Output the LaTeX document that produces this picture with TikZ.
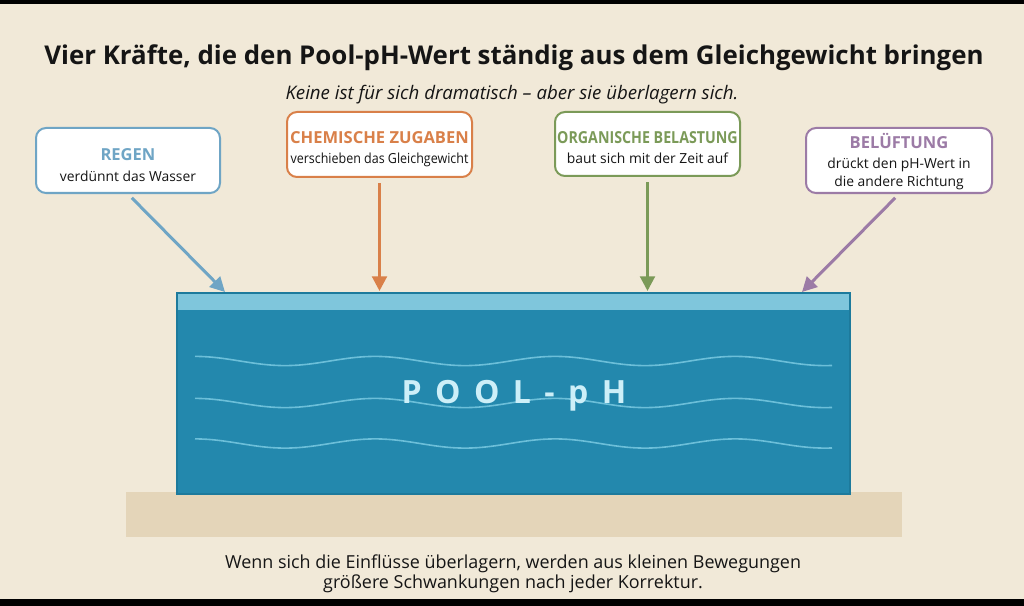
\documentclass[tikz,border=0pt]{standalone}
\usepackage{fontspec}
\setmainfont{Open Sans}
\usetikzlibrary{arrows.meta}
\definecolor{bg}{HTML}{F1E9D8}
\definecolor{basecol}{HTML}{E4D5B9}
\definecolor{water}{HTML}{2388AD}
\definecolor{waterline}{HTML}{1D7A9C}
\definecolor{surface}{HTML}{7FC6DC}
\definecolor{wave}{HTML}{6CBFD9}
\definecolor{pooltext}{HTML}{CDEFF8}
\definecolor{cblue}{HTML}{6FA5C5}
\definecolor{corange}{HTML}{D98049}
\definecolor{cgreen}{HTML}{7B9A58}
\definecolor{cpurple}{HTML}{9C7BA6}
\definecolor{ink}{HTML}{151515}
\begin{document}
\begin{tikzpicture}[x=0.75pt,y=-0.75pt,
  box/.style={draw=#1, line width=1.5pt, rounded corners=7.5pt, fill=white, inner sep=0pt},
  btitle/.style={anchor=base, text=#1, font=\fontsize{12.4pt}{14pt}\selectfont\bfseries, inner sep=0pt},
  bsub/.style={anchor=base, text=ink, font=\fontsize{10.4pt}{12pt}\selectfont, inner sep=0pt},
  arr/.style={draw=#1, line width=2.25pt, -{Triangle[length=11pt,width=11pt]}, shorten <=4pt},
  wavy/.style={draw=wave, line width=1.2pt},
]
\useasboundingbox (0,0) rectangle (1024,606);
\fill[bg] (0,0) rectangle (1024,606);
\fill[black] (0,0) rectangle (1024,4);
\fill[black] (0,599) rectangle (1024,606);

% titles
\node[anchor=base, inner sep=0pt, text=ink, font=\fontsize{19.4pt}{23pt}\selectfont\bfseries] (title) at (514,65)
  {Vier Kräfte, die den Pool-pH-Wert ständig aus dem Gleichgewicht bringen};
\node[anchor=base, inner sep=0pt, text=ink, font=\fontsize{14pt}{17pt}\selectfont\itshape] (subtitle) at (512,100)
  {Keine ist für sich dramatisch – aber sie überlagern sich.};

% base and pool
\fill[basecol] (126,492) rectangle (902,537);
\node[draw=waterline, fill=water, line width=1pt, minimum width=504.75pt, minimum height=150.75pt, inner sep=0pt] (pool) at (513.5,393.5) {};
\fill[surface] (178,294) rectangle (849,310);
\draw[wavy] plot[domain=195:832, samples=150, smooth] (\x, {361 - 4.6*cos(2*(\x-195))});
\draw[wavy] plot[domain=195:832, samples=150, smooth] (\x, {403 - 4.6*cos(2*(\x-195))});
\draw[wavy] plot[domain=195:832, samples=150, smooth] (\x, {443.5 - 4.6*cos(2*(\x-195))});
\node[anchor=base, inner sep=0pt, text=pooltext, font=\fontsize{24pt}{28pt}\selectfont\bfseries] (pooltxt) at (514,403)
  {P\hspace{.42em}O\hspace{.42em}O\hspace{.42em}L\hspace{.42em}-\hspace{.42em}p\hspace{.42em}H};

% boxes
\node[box=cblue, minimum width=138pt, minimum height=48.75pt] (regen) at (128,160.5) {};
\node[btitle=cblue] (regenT) at (128,161) {REGEN};
\node[bsub] (regenS) at (128,181) {verdünnt das Wasser};

\node[box=corange, minimum width=138.75pt, minimum height=48.75pt] (chem) at (379.5,144.5) {};
\node[btitle=corange] (chemT) at (379.5,144) {CHEMISCHE ZUGABEN};
\node[bsub] (chemS) at (379.5,164) {\addfontfeature{FakeStretch=0.9}verschieben das Gleichgewicht};

\node[box=cgreen, minimum width=138.75pt, minimum height=48pt] (org) at (647.5,144) {};
\node[btitle=cgreen] (orgT) at (647.5,143.5) {\addfontfeature{FakeStretch=0.86}ORGANISCHE BELASTUNG};
\node[bsub] (orgS) at (647.5,164) {baut sich mit der Zeit auf};

\node[box=cpurple, minimum width=139.5pt, minimum height=48.75pt] (bel) at (899,160.5) {};
\node[btitle=cpurple] (belT) at (899,149) {BELÜFTUNG};
\node[bsub] (belS1) at (899,169) {drückt den pH-Wert in};
\node[bsub] (belS2) at (899,186) {die andere Richtung};

% arrows
\coordinate (t1) at (225,292);
\coordinate (t2) at (379.5,291);
\coordinate (t3) at (647.5,291);
\coordinate (t4) at (802,292);
\draw[arr=cblue] (regen.south) -- (t1);
\draw[arr=corange] (chem.south) -- (t2);
\draw[arr=cgreen] (org.south) -- (t3);
\draw[arr=cpurple] (bel.south) -- (t4);

% bottom text
\node[anchor=base, inner sep=0pt, text=ink, font=\fontsize{13.45pt}{16pt}\selectfont] (foot1) at (513,568)
  {Wenn sich die Einflüsse überlagern, werden aus kleinen Bewegungen};
\node[anchor=base, inner sep=0pt, text=ink, font=\fontsize{13.45pt}{16pt}\selectfont] (foot2) at (513,588)
  {größere Schwankungen nach jeder Korrektur.};
\end{tikzpicture}
\end{document}
